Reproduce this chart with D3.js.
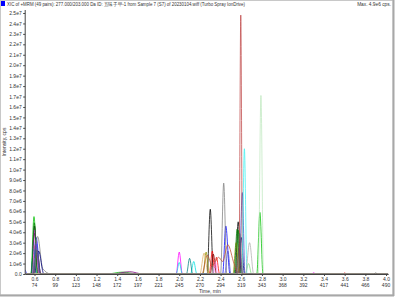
<!DOCTYPE html>
<html>
<head>
<meta charset="utf-8">
<script src="https://cdn.jsdelivr.net/npm/d3@7"></script>
<style>
  body { margin: 0; background: #fff; }
  text { font-family: "Liberation Sans", Arial, sans-serif; }
</style>
</head>
<body>
<div id="chart"></div>
<script>
// chart texts
var titleText = "XIC of +MRM (49 pairs): 277.000/203.000 Da ID: 五味子甲-1 from Sample 7 (S7) of 20230104.wiff (Turbo Spray IonDrive)";
var maxText = "Max. 4.9e6 cps.";

// x ticks (time, min) and the scan numbers under them
var timeTicks = [0.6, 0.8, 1.0, 1.2, 1.4, 1.6, 1.8, 2.0, 2.2, 2.4, 2.6, 2.8, 3.0, 3.2, 3.4, 3.6, 3.8, 4.0];
var scanLabels = ["74", "99", "123", "148", "172", "197", "221", "245", "270", "294", "319", "343", "368", "392", "417", "441", "466", "490"];
// y ticks, intensity in 1e6 cps
var yTicks = [0, 1, 2, 3, 4, 5, 6, 7, 8, 9, 10, 11, 12, 13, 14, 15, 16, 17, 18, 19, 20, 21, 22, 23, 24, 25];

// one colour per XIC trace
var traceColors = ["#00c000", "#000000", "#ff00ff", "#0000ff", "#808080", "#00e0e0", "#ff0000", "#800080",
    "#008080", "#000080", "#909000", "#800000", "#80e080", "#4040c0", "#ff80ff", "#008000",
    "#c05030", "#c0e8c0", "#c04848", "#40f0f0", "#5050d0", "#b0b0b0", "#e0b060", "#606060"];

// points [time, intensity e6]; baseline ends are added when drawn
var tracePoints = [
    [[0.565, 0], [0.595, 5.5], [0.63, 0], [1.3, 0], [1.45, 0.18], [1.6, 0], [2.55, 0], [2.57, 4.2], [2.59, 0], [2.75, 0], [2.78, 5.9], [2.81, 0]],
    [[0.57, 0], [0.6, 4.6], [0.635, 0], [2.27, 0], [2.30, 6.2], [2.33, 0], [2.54, 0], [2.57, 5.0], [2.6, 0]],
    [[0.57, 0], [0.6, 4.2], [0.64, 0], [1.97, 0], [2.0, 2.1], [2.03, 0], [3.28, 0], [3.3, 0.12], [3.32, 0]],
    [[0.51, 0.4], [0.53, 0], [0.58, 0], [0.615, 3.5], [0.66, 0], [2.42, 0], [2.45, 4.6], [2.49, 0]],
    [[0.58, 0], [0.63, 3.6], [0.68, 0.5], [0.76, 0], [2.40, 0], [2.43, 8.7], [2.46, 0]],
    [[0.57, 0], [0.595, 3.0], [0.625, 0], [1.97, 0], [2.0, 1.1], [2.03, 0], [2.11, 0], [2.14, 1.2], [2.17, 0]],
    [[0.575, 0], [0.605, 2.8], [0.64, 0], [2.29, 0], [2.32, 2.2], [2.34, 0.6], [2.36, 1.6], [2.39, 0], [3.58, 0], [3.6, 0.1], [3.62, 0]],
    [[0.57, 0], [0.6, 3.9], [0.635, 0], [1.35, 0], [1.52, 0.22], [1.65, 0], [2.55, 0], [2.58, 2.5], [2.61, 0]],
    [[0.565, 0], [0.59, 2.4], [0.62, 0], [2.07, 0], [2.1, 1.5], [2.13, 0]],
    [[0.6, 0], [0.64, 2.2], [0.69, 0], [2.57, 0], [2.6, 3.5], [2.63, 0]],
    [[0.58, 0], [0.61, 1.8], [0.65, 0], [2.23, 0], [2.26, 2.1], [2.29, 0], [2.52, 0], [2.55, 3.0], [2.58, 0]],
    [[0.59, 0], [0.625, 2.0], [0.66, 0], [2.30, 0], [2.33, 1.9], [2.36, 0]],
    [[0.575, 0], [0.6, 1.5], [0.63, 0], [2.64, 0], [2.67, 1.0], [2.70, 0]],
    [[0.59, 0], [0.62, 2.6], [0.655, 0], [2.58, 0], [2.61, 7.8], [2.635, 0]],
    [[0.575, 0], [0.605, 3.3], [0.64, 0], [2.33, 0], [2.35, 1.2], [2.37, 0]],
    [[0.57, 0], [0.598, 4.9], [0.63, 0], [2.53, 0], [2.56, 4.3], [2.59, 0]],
    [[2.22, 0], [2.27, 1.8], [2.32, 0.8], [2.38, 1.6], [2.42, 1.2], [2.47, 2.8], [2.53, 1.0], [2.58, 0]],
    [[2.765, 0], [2.79, 17.1], [2.815, 0]],
    [[2.578, 0], [2.595, 24.8], [2.612, 0]],
    [[2.605, 0], [2.63, 12.0], [2.655, 0]],
    [[0.58, 0], [0.615, 2.9], [0.65, 0], [2.44, 0], [2.47, 2.2], [2.5, 0]],
    [[2.64, 0], [2.68, 3.0], [2.72, 0]],
    [[2.2, 0], [2.24, 2.0], [2.28, 0]],
    [[0.59, 0], [0.625, 2.3], [0.66, 0], [2.56, 0], [2.585, 3.9], [2.61, 0], [3.88, 0], [3.9, 0.1], [3.92, 0]]
];

var W = 400, H = 304;
var t0 = 0.51, t1 = 4.02;

var svg = d3.select("#chart")
    .append("svg")
    .attr("width", W)
    .attr("height", H);

var x = d3.scaleLinear().domain([t0, t1]).range([25.2, 388.1]);
var y = d3.scaleLinear().domain([0, 25]).range([274, 13]);

// frame
svg.append("rect")
    .attr("x", 0.5).attr("y", 0.5)
    .attr("width", 392.5).attr("height", 294.5)
    .attr("fill", "none")
    .attr("stroke", "#c8c8c8");
svg.append("line")
    .attr("x1", 393.5).attr("x2", 393.5).attr("y1", 0).attr("y2", 296)
    .attr("stroke", "#a8a8a8").attr("stroke-width", 2);
svg.append("line")
    .attr("x1", 0).attr("x2", 394).attr("y1", 295.5).attr("y2", 295.5)
    .attr("stroke", "#a8a8a8").attr("stroke-width", 2);

// title
svg.append("rect")
    .attr("x", 1).attr("y", 1).attr("width", 4).attr("height", 5)
    .attr("fill", "#0000ff");
svg.append("text")
    .attr("x", 7).attr("y", 6)
    .style("font-size", "4.8px")
    .attr("fill", "#333")
    .attr("textLength", 238)
    .attr("lengthAdjust", "spacingAndGlyphs")
    .text(titleText);
svg.append("text")
    .attr("x", 391).attr("y", 6)
    .attr("text-anchor", "end")
    .style("font-size", "4.8px")
    .attr("fill", "#333")
    .text(maxText);

// clip for traces
svg.append("clipPath").attr("id", "plotClip")
    .append("rect")
    .attr("x", x(t0)).attr("y", 10)
    .attr("width", x(t1) - x(t0)).attr("height", y(0) - 10 + 1);

var line = d3.line()
    .x(function(d) { return x(d[0]); })
    .y(function(d) { return y(d[1]); })
    .curve(d3.curveMonotoneX);

var traces = svg.append("g").attr("clip-path", "url(#plotClip)");
traces.selectAll("path")
    .data(tracePoints)
    .enter()
    .append("path")
    .attr("d", function(d) {
        var pts = d.slice();
        if (pts[0][0] > t0) pts.unshift([t0, 0]);
        if (pts[pts.length - 1][0] < t1) pts.push([t1, 0]);
        return line(pts);
    })
    .attr("fill", "none")
    .attr("stroke", function(d, i) { return traceColors[i]; })
    .attr("stroke-width", 0.9)
    .attr("stroke-opacity", 0.85);

// y axis
var yAxis = svg.append("g")
    .attr("transform", "translate(" + x(t0) + ",0)")
    .call(d3.axisLeft(y)
        .tickValues(yTicks)
        .tickSize(2)
        .tickSizeOuter(0)
        .tickPadding(1.5)
        .tickFormat(function(d) {
            if (d == 0) return "0.0";
            if (d < 10) return d.toFixed(1) + "e6";
            return (d / 10).toFixed(1) + "e7";
        }));
yAxis.select(".domain").attr("d", "M0,10V" + y(0)).attr("stroke", "#444");
yAxis.selectAll(".tick line").attr("stroke", "#444");
yAxis.selectAll("text").style("font-size", "5px").attr("fill", "#333")
    .style("font-family", "'Liberation Sans', Arial, sans-serif");

// x axis
var xAxis = svg.append("g")
    .attr("transform", "translate(0," + y(0) + ")")
    .call(d3.axisBottom(x)
        .tickValues(timeTicks)
        .tickSize(2)
        .tickSizeOuter(0)
        .tickPadding(1.5)
        .tickFormat(d3.format(".1f")));
xAxis.select(".domain").attr("stroke", "#444");
xAxis.selectAll(".tick line").attr("stroke", "#444");
xAxis.selectAll("text").style("font-size", "5px").attr("fill", "#333")
    .style("font-family", "'Liberation Sans', Arial, sans-serif");

svg.append("g").selectAll("text")
    .data(scanLabels)
    .enter()
    .append("text")
    .attr("x", function(d, i) { return x(timeTicks[i]); })
    .attr("y", 286.5)
    .attr("text-anchor", "middle")
    .style("font-size", "5px")
    .attr("fill", "#333")
    .text(function(d) { return d; });

// axis titles
svg.append("text")
    .attr("x", 199).attr("y", 293.3)
    .style("font-size", "5px")
    .attr("fill", "#333")
    .text("Time, min");

svg.append("text")
    .attr("transform", "translate(6,142) rotate(-90)")
    .attr("text-anchor", "middle")
    .style("font-size", "5px")
    .attr("fill", "#333")
    .text("Intensity, cps");
</script>
</body>
</html>
